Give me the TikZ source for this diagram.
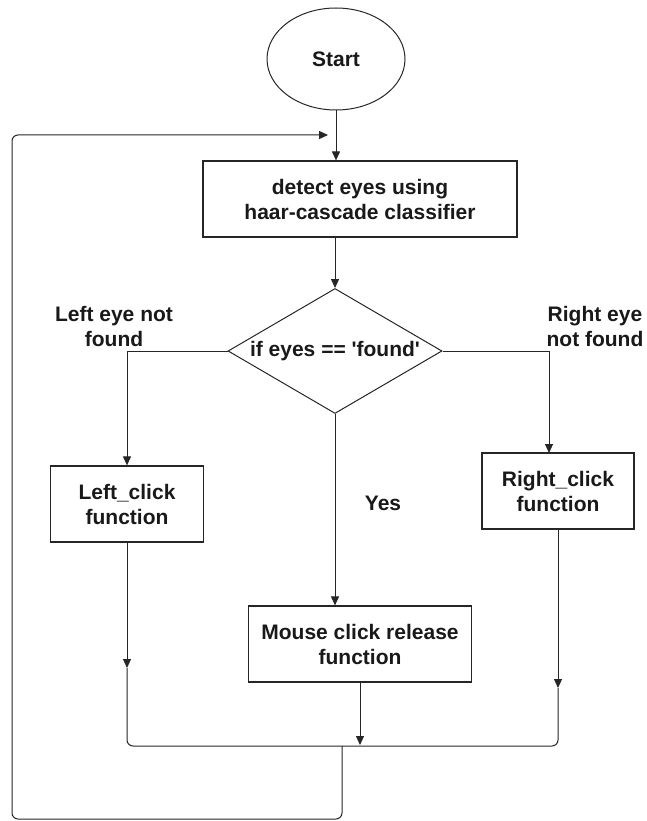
\documentclass[tikz,border=0pt]{standalone}
\usepackage{fontspec}
\setmainfont{Liberation Sans}
\usetikzlibrary{arrows.meta,shapes.geometric}
\begin{document}
\begin{tikzpicture}[x=1pt,y=-1pt,
  flow/.style={draw=black!85, line width=1pt},
  arr/.style={flow, -{Triangle[length=9pt,width=8pt]}},
  lbl/.style={font=\bfseries\fontsize{21}{25}\selectfont, align=center, text=black!90},
  box/.style={lbl, draw=black!85, line width=1.2pt, inner sep=0pt, rectangle},
]
\useasboundingbox (0,0) rectangle (647,821);

% nodes
\node[lbl, ellipse, draw=black!85, line width=1pt, minimum width=138pt, minimum height=102pt, inner sep=0pt] (start) at (336,59) {Start};
\node[box, minimum width=314pt, minimum height=76pt] (detect) at (360,199) {detect eyes using\\haar-cascade classifier};
\node[lbl, diamond, draw=black!85, line width=1pt, aspect=1.7, minimum width=214pt, minimum height=125pt, inner sep=0pt] (cond) at (335,351) {if eyes == \textquotesingle found\textquotesingle};
\node[lbl] (lefttxt) at (114,326) {Left eye not\\found};
\node[lbl] (righttxt) at (595,326) {Right eye\\not found};
\node[box, minimum width=153pt, minimum height=76pt] (left) at (127,504) {Left\_click\\function};
\node[box, minimum width=152pt, minimum height=76pt] (right) at (558,491) {Right\_click\\function};
\node[lbl] (yes) at (383,503) {Yes};
\node[box, minimum width=223pt, minimum height=76pt] (mouse) at (360,644) {Mouse click release\\function};

% helper coordinates for bends and mid-line arrow tips
\coordinate (rin) at (549,453);
\coordinate (lmid) at (127,668);
\coordinate (rmid) at (558,688);
\coordinate (mL) at (127,746);
\coordinate (mR) at (558,746);
\coordinate (mtip) at (360,745);
\coordinate (drop) at (342,746);
\coordinate (bot) at (342,819);
\coordinate (botL) at (12,819);
\coordinate (topL) at (12,135);
\coordinate (looptip) at (328,135);

% connectors
\draw[arr] (start.south) -- (start.south |- detect.north);
\draw[arr] (cond.north |- detect.south) -- (cond.north);
\draw[arr] (cond.west) -| (left.north);
\draw[arr] (cond.east) -| (rin);
\draw[arr] (cond.south) -- (cond.south |- mouse.north);
\draw[arr] (left.south) -- (lmid);
\draw[arr] (right.south) -- (rmid);
\draw[arr] (mouse.south) -- (mtip);
\draw[flow, rounded corners=6pt] (lmid) -- (mL) -- (mR) -- (rmid);
\draw[arr, rounded corners=6pt] (drop) -- (bot) -- (botL) -- (topL) -- (looptip);
\end{tikzpicture}
\end{document}
